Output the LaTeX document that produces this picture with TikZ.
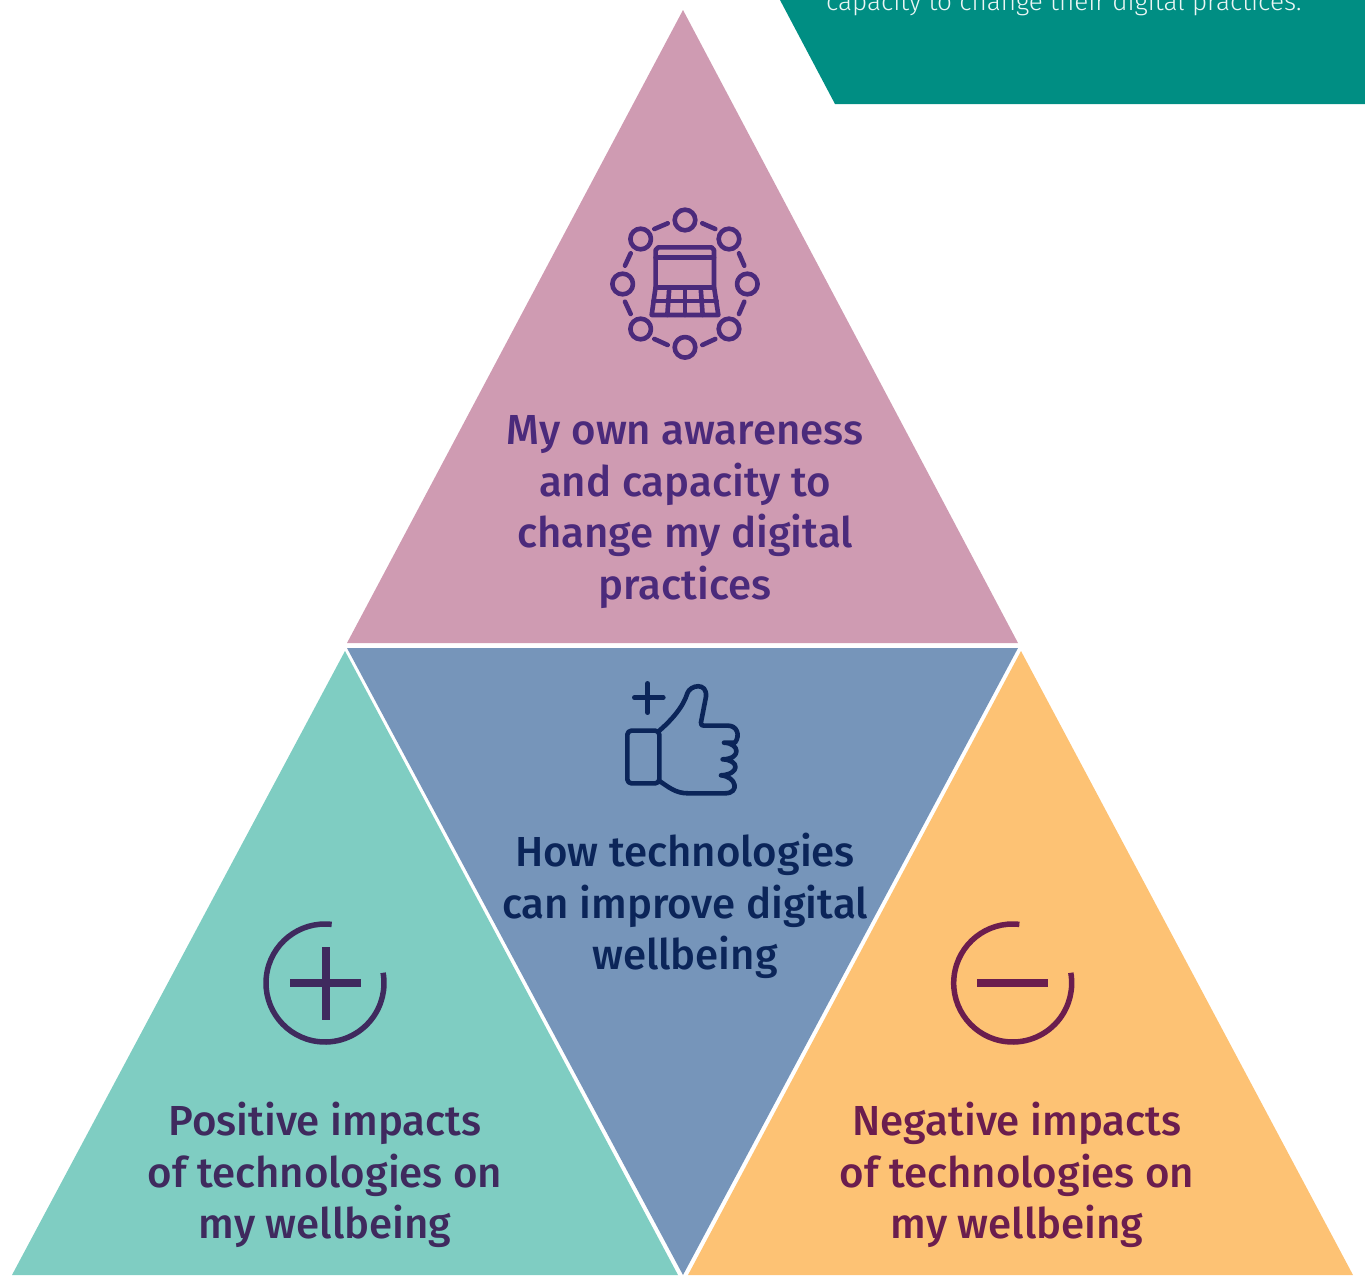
\documentclass[tikz,border=0pt]{standalone}
\usepackage{fontspec}
\setmainfont{Fira Sans Medium}
\newfontfamily\lightfont{Fira Sans Light}
\definecolor{pinkfill}{HTML}{CF9BB2}
\definecolor{bluefill}{HTML}{7695BA}
\definecolor{tealfill}{HTML}{7FCDC2}
\definecolor{orangefill}{HTML}{FDC274}
\definecolor{bannerfill}{HTML}{008E83}
\definecolor{pinkink}{HTML}{4B2A7B}
\definecolor{blueink}{HTML}{0B2559}
\definecolor{tealink}{HTML}{3F2A5E}
\definecolor{orangeink}{HTML}{6B1D4E}
\tikzset{
  label text/.style={align=center,inner sep=0pt,font=\fontsize{42}{51.4}\selectfont},
  icon line/.style={line width=4.6pt,line cap=round,line join=round},
  ring line/.style={line width=5.5pt}
}
\begin{document}
\begin{tikzpicture}[x=1pt,y=-1pt]
\useasboundingbox (0,0) rectangle (1365,1275);
% banner
\fill[bannerfill] (780,0) -- (1365,0) -- (1365,104) -- (835,104) -- cycle;
\begin{scope}
\clip (0,0) rectangle (1365,1275);
\node[anchor=base west,inner sep=0pt,text=white!92!bannerfill,font=\lightfont\fontsize{26.1}{32}\selectfont] (bannertext) at (826,10) {capacity to change their digital practices.};
\end{scope}
% triangles
\fill[pinkfill] (683,10) -- (1018,643) -- (347,643) -- cycle;
\fill[bluefill] (347,648) -- (1018,648) -- (683,1275) -- cycle;
\fill[tealfill] (345,651) -- (678,1275) -- (12,1275) -- cycle;
\fill[orangefill] (1021,651) -- (1353,1275) -- (688,1275) -- cycle;
% labels
\node[label text,text=pinkink] (awareness) at (685,512) {My own awareness\\and capacity to\\change my digital\\practices};
\node[label text,text=blueink] (improve) at (685,906) {How technologies\\can improve digital\\wellbeing};
\node[label text,text=tealink] (positive) at (325,1175) {Positive impacts\\of technologies on\\my wellbeing};
\node[label text,text=orangeink] (negative) at (1017,1175) {Negative impacts\\of technologies on\\my wellbeing};
% network laptop icon
\begin{scope}[x=0.3333pt,y=-0.3333pt,shift={(590pt,-190pt)},draw=pinkink,icon line]
\foreach \p in {(285,90),(417,147),(472,282),(417,417),(285,472),(152,417),(98,282),(152,147)}
  \draw \p circle[radius=10.3pt];
\draw (193,117) -- (233,100);
\draw (337,100) -- (376,117);
\draw (447,190) -- (463,227);
\draw (463,335) -- (447,372);
\draw (376,447) -- (337,465);
\draw (233,465) -- (193,447);
\draw (122,372) -- (105,335);
\draw (105,227) -- (122,190);
\draw (197,290) -- (197,180) -- (205,172) -- (365,172) -- (372,180) -- (372,290) -- (385,375) -- (185,375) -- cycle;
\draw (197,203) -- (372,203);
\draw (197,292) -- (372,292);
\draw (190,333) -- (380,333);
\draw (238,292) -- (232,375);
\draw (285,292) -- (285,375);
\draw (332,292) -- (338,375);
\end{scope}
% thumb icon
\begin{scope}[x=0.3333pt,y=-0.3333pt,shift={(600pt,-665pt)},draw=blueink,icon line]
\draw (143,55) -- (143,143) (103,98) -- (190,98);
\draw[rounded corners=4pt] (178,197) -- (82,197) -- (82,355) -- (178,355) -- cycle;
\draw (178,197) .. controls (215,165) and (250,125) .. (262,85)
  .. controls (270,60) and (322,50) .. (318,95)
  -- (303,172) .. controls (302,180) and (305,182) .. (312,182)
  -- (385,182) .. controls (410,182) and (422,210) .. (405,233)
  -- (372,233) .. controls (420,235) and (425,282) .. (368,283)
  .. controls (420,285) and (420,328) .. (363,331)
  .. controls (410,335) and (420,385) .. (375,385)
  -- (265,385) .. controls (225,385) and (205,365) .. (178,348);
\end{scope}
% plus icon
\draw[tealink,ring line] (325,983) ++(-83.5:59) arc[start angle=-83.5,end angle=-370,radius=59];
\draw[tealink,line width=8pt] (290,983) -- (361,983) (325.7,947) -- (325.7,1020);
% minus icon
\draw[orangeink,ring line] (1012.7,983) ++(-83.5:59) arc[start angle=-83.5,end angle=-370,radius=59];
\draw[orangeink,line width=8pt] (977,983) -- (1048,983);
\end{tikzpicture}
\end{document}
